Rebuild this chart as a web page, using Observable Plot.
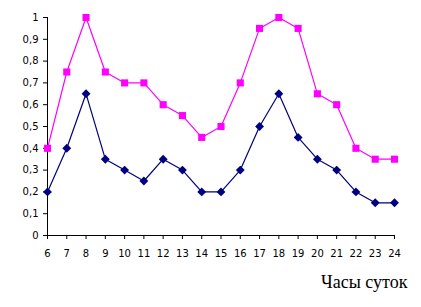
<!DOCTYPE html>
<html><head><meta charset="utf-8">
<script src="https://cdn.jsdelivr.net/npm/d3@7"></script>
<script src="https://cdn.jsdelivr.net/npm/@observablehq/plot@0.6"></script>
<style>body{margin:0;background:#fff}</style>
</head><body><div id="chart"></div>
<script>
const hours = [6,7,8,9,10,11,12,13,14,15,16,17,18,19,20,21,22,23,24];
const pinkValues = [0.4,0.75,1.0,0.75,0.7,0.7,0.6,0.55,0.45,0.5,0.7,0.95,1.0,0.95,0.65,0.6,0.4,0.35,0.35];
const navyValues = [0.2,0.4,0.65,0.35,0.3,0.25,0.35,0.3,0.2,0.2,0.3,0.5,0.65,0.45,0.35,0.3,0.2,0.15,0.15];
const yTicks = [0,0.1,0.2,0.3,0.4,0.5,0.6,0.7,0.8,0.9,1];
const xLabel = "Часы суток";

const pink = hours.map((h,i)=>({h, v: pinkValues[i]}));
const navy = hours.map((h,i)=>({h, v: navyValues[i]}));
const fmt = d => String(d).replace(".", ",");

const chart = Plot.plot({
  width: 421, height: 307,
  marginLeft: 47, marginRight: 27, marginTop: 17, marginBottom: 72,
  style: {fontFamily: "DejaVu Sans", fontSize: "10px", color: "#000", background: "#fff"},
  x: {domain: [6,24]},
  y: {domain: [0,1]},
  marks: [
    Plot.axisY({ticks: yTicks, tickFormat: fmt, tickSize: 4, tickPadding: 5, label: null, stroke: "#000", strokeOpacity: 1}),
    Plot.axisX({ticks: hours, tickFormat: d => String(d), tickSize: 4, tickPadding: 10, label: null, stroke: "#000", strokeOpacity: 1}),
    Plot.ruleX([6], {stroke: "#000"}),
    Plot.ruleY([0], {stroke: "#000"}),
    Plot.line(pink, {x: "h", y: "v", stroke: "#FF00FF", strokeWidth: 1.2}),
    Plot.dot(pink, {x: "h", y: "v", symbol: "square", r: 4, fill: "#FF00FF", stroke: "none"}),
    Plot.line(navy, {x: "h", y: "v", stroke: "#000080", strokeWidth: 1.2}),
    Plot.dot(navy, {x: "h", y: "v", symbol: "diamond2", r: 4, fill: "#000080", stroke: "none"}),
    Plot.text([xLabel], {frameAnchor: "bottom-right", text: d => d, dx: 13, dy: 52, textAnchor: "end", lineAnchor: "bottom", fontFamily: "Liberation Serif", fontSize: 18, fill: "#000"})
  ]
});
document.getElementById("chart").appendChild(chart);
</script></body></html>
